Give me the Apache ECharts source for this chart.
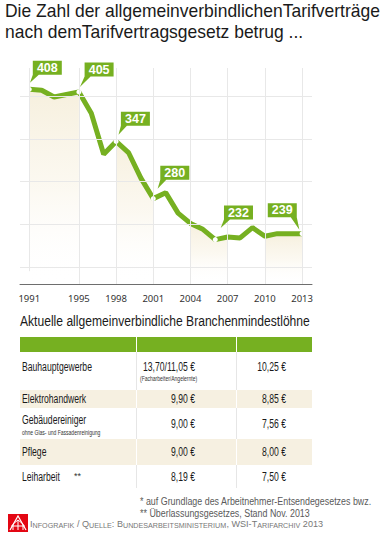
<!DOCTYPE html>
<html><head><meta charset="utf-8">
<script src="https://cdn.jsdelivr.net/npm/echarts@6/dist/echarts.min.js"></script>
<style>html,body{margin:0;padding:0;background:#fff}#c{width:384px;height:541px}</style>
</head><body><div id="c"></div>
<script>
// ---------- data ----------
const titleLines = ['Die Zahl der allgemeinverbindlichenTarifverträge', 'nach demTarifvertragsgesetz betrug ...'];
const years  = [1991,1992,1993,1994,1995,1996,1997,1998,1999,2000,2001,2002,2003,2004,2005,2006,2007,2008,2009,2010,2011,2012,2013];
const counts = [408, 407, 399, 402, 405, 380, 332, 347, 334, 304, 280, 287, 263, 251, 244, 232, 235, 234, 246, 236, 239, 239, 239];
const tickYears = [1991,1995,1998,2001,2004,2007,2010,2013];
const gridValues = [200,250,300,350,400];
const labeledYears = [1991,1995,1998,2001,2006,2013];
const bandStarts = [1991,1998,2004,2010];
const bandEnds   = [1995,2001,2007,2013];

const tableTitle = 'Aktuelle allgemeinverbindliche Branchenmindestlöhne';
const branches    = ['Bauhauptgewerbe','Elektrohandwerk','Gebäudereiniger','Pflege','Leiharbeit'];
const branchNotes = ['','','ohne Glas- und Fassadenreinigung','',''];
const branchMarks = ['','','','','**'];
const westWages   = ['13,70/11,05 €','9,90 €','9,00 €','9,00 €','8,19 €'];
const westNotes   = ['(Facharbeiter/Angelernte)','','','',''];
const eastWages   = ['10,25 €','8,85 €','7,56 €','8,00 €','7,50 €'];
const footnotes   = ['* auf Grundlage des Arbeitnehmer-Entsendegesetzes bwz.','** Überlassungsgesetzes, Stand Nov. 2013'];
const sourceText  = 'Infografik / Quelle: Bundesarbeitsministerium, WSI-Tarifarchiv 2013';

// ---------- styles ----------
const GREEN = '#76B021';
const BEIGE = '#F6F0E1';
const FAM = "'Liberation Sans',Arial,sans-serif";
const mctx = document.createElement('canvas').getContext('2d');
function tw(text, font) { mctx.font = font; return mctx.measureText(text).width; }

const calloutStyle = [
  {L:3.5,  B:-14.5, tx:0.7,  ty:-6.5, side:'left'},
  {L:5.7,  B:-15.3, tx:1.0,  ty:-5.0, side:'left'},
  {L:4.8,  B:-15.6, tx:2.4,  ty:-6.6, side:'left'},
  {L:7.0,  B:-18.9, tx:4.3,  ty:-9.9, side:'left'},
  {L:8.7,  B:-20.0, tx:5.4,  ty:-11.7,side:'left'},
  {L:-34.3,B:-16.3, tx:-2.7, ty:-4.0, side:'right'}
];
const CW = 29, CH = 14;

function buildCallout(s) {
  const L = s.L, B = s.B, T = B - CH, R = L + CW;
  let p;
  if (s.side === 'left') {
    p = `M${L},${T} L${R},${T} L${R},${B} L${L+6},${B} L${s.tx},${s.ty} L${L},${B} Z`;
  } else {
    p = `M${L},${T} L${R},${T} L${R},${B} L${s.tx},${s.ty} L${R-6},${B} L${L},${B} Z`;
  }
  const minX = Math.min(L, s.tx), maxX = Math.max(R, s.tx);
  const minY = T, maxY = Math.max(B, s.ty);
  const off = [(minX + maxX) / 2, (minY + maxY) / 2];
  return {
    path: 'path://' + p,
    size: [maxX - minX, maxY - minY],
    offset: off,
    labelOffset: [L + CW / 2 - off[0], T + CH / 2 - off[1]]
  };
}

const mainData = years.map((y, i) => [y, counts[i]]);

const fillSeries = bandStarts.map((s, i) => ({
  type: 'line', silent: true, z: 1, symbol: 'none',
  data: mainData.filter(p => p[0] >= s && p[0] <= bandEnds[i]),
  lineStyle: {width: 0, opacity: 0},
  areaStyle: {
    origin: 'start',
    color: new echarts.graphic.LinearGradient(0, 0, 0, 1, [
      {offset: 0, color: 'rgba(242,232,205,0.95)'},
      {offset: 0.5, color: 'rgba(248,242,226,0.7)'},
      {offset: 1, color: 'rgba(255,255,255,0)'}
    ])
  }
}));

const gridLineData = [
  ...tickYears.filter(y => y !== tickYears[0]).map(y => ({xAxis: y})),
  ...gridValues.map(v => ({yAxis: v})),
  [{coord: [tickYears[0], 433]}, {coord: [tickYears[0], 195]}]
];

const calloutData = labeledYears.map((y, i) => {
  const v = counts[years.indexOf(y)];
  const c = buildCallout(calloutStyle[i]);
  return {
    coord: [y, v], value: v,
    symbol: c.path, symbolSize: c.size, symbolOffset: c.offset, symbolKeepAspect: false,
    label: {offset: c.labelOffset}
  };
});

// ---------- text / table graphics ----------
const g = [];
function addText(text, x, y, size, width, opts) {
  const font = `${opts && opts.bold ? 'bold ' : ''}${size}px ${FAM}`;
  const sx = width ? width / tw(text, font) : (opts && opts.sx) || 1;
  g.push({type:'text', x: x, y: y, scaleX: sx, scaleY: 1,
    style: {text: text, font: font, fill: (opts && opts.fill) || '#1a1a1a',
            align: (opts && opts.align) || 'left', verticalAlign: 'middle'}});
  return sx;
}
// title
const titleFont = `18px ${FAM}`;
const titleSx = 375 / tw(titleLines[0], titleFont);
titleLines.forEach((t, i) => addText(t, 5, 11 + i * 21, 18, 0, {sx: titleSx, fill: '#1a1a1a'}));
// table title
addText(tableTitle, 20, 321.5, 14.5, 290);

const tX0 = 20, tX1 = 312, cX1 = 136, cX2 = 236;
const headTop = 337, headBottom = 352;
const rowEdges = [352, 390, 408, 439, 465, 488];
const nameY = [367, 398.5, 420, 452, 477];
const valY  = [367, 398.5, 424, 452, 477];
const bodySx = 70 / tw(branches[0], `12px ${FAM}`);
g.push({type:'rect', shape:{x:tX0, y:headTop, width:tX1-tX0, height:headBottom-headTop}, style:{fill:GREEN}});
[cX1, cX2].forEach(x => g.push({type:'line', shape:{x1:x+0.5, y1:headTop, x2:x+0.5, y2:headBottom}, style:{stroke:'#fff', lineWidth:1}}));
branches.forEach((b, i) => {
  const y0 = rowEdges[i], y1 = rowEdges[i+1];
  const beige = i % 2 === 1;
  if (beige) g.push({type:'rect', shape:{x:tX0, y:y0, width:tX1-tX0, height:y1-y0}, style:{fill:BEIGE}});
  [cX1, cX2].forEach(x => g.push({type:'line', shape:{x1:x+0.5, y1:y0, x2:x+0.5, y2:y1}, style:{stroke: beige ? '#fff' : '#E6E6E6', lineWidth:1}}));
  addText(b, 22, nameY[i], 12, 0, {sx: bodySx});
  if (branchNotes[i]) addText(branchNotes[i], 22, nameY[i] + 12, 7, 0, {sx: bodySx, fill: '#333'});
  if (branchMarks[i]) addText(branchMarks[i], 74, nameY[i] - 1, 9, 0, {sx: 1, fill: '#333'});
  addText(westWages[i], 195, valY[i], 12, 0, {sx: bodySx, align: 'right'});
  if (westNotes[i]) addText(westNotes[i], 140, valY[i] + 11, 7, 0, {sx: bodySx, fill: '#333'});
  addText(eastWages[i], 286, valY[i], 12, 0, {sx: bodySx, align: 'right'});
});
const footSx = 232 / tw(footnotes[0], `11.5px ${FAM}`);
footnotes.forEach((t, i) => addText(t, 140, 501 + i * 12, 11.5, 0, {sx: footSx, fill: '#5a5a5a'}));

// source line in small caps
(function () {
  const segs = []; let cur = null, buf = '';
  for (const ch of sourceText) {
    const st = ch !== ch.toUpperCase() ? 's' : 'b';
    if (st !== cur && buf) { segs.push([cur, buf]); buf = ''; }
    cur = st; buf += st === 's' ? ch.toUpperCase() : ch;
  }
  if (buf) segs.push([cur, buf]);
  const sizes = {b: 9.5, s: 7.5};
  const w = segs.reduce((a, s) => a + tw(s[1], `${sizes[s[0]]}px ${FAM}`), 0);
  const txt = segs.map(s => `{${s[0]}|${s[1]}}`).join('');
  g.push({type:'text', x:30, y:524, scaleX: 293 / w, scaleY: 1,
    style:{text: txt, fill:'#777', verticalAlign:'middle',
      rich:{ b:{fontSize:sizes.b, fontFamily:FAM, fill:'#777', verticalAlign:'bottom'},
             s:{fontSize:sizes.s, fontFamily:FAM, fill:'#777', verticalAlign:'bottom'} }}});
})();
// logo
g.push({type:'rect', shape:{x:8, y:514, width:20, height:18}, style:{fill:'#E30613'}});
g.push({type:'polyline', shape:{points:[[10,530],[18,516],[26,530]]}, style:{stroke:'#fff', lineWidth:1.2, fill:null}});
g.push({type:'polyline', shape:{points:[[13,530],[13,524],[18,520],[23,524],[23,530]]}, style:{stroke:'#fff', lineWidth:1, fill:null}});
g.push({type:'line', shape:{x1:11, y1:526, x2:25, y2:526}, style:{stroke:'#fff', lineWidth:1}});
g.push({type:'line', shape:{x1:18, y1:520, x2:18, y2:530}, style:{stroke:'#fff', lineWidth:1}});

// ---------- chart ----------
const chart = echarts.init(document.getElementById('c'), null, {renderer:'svg'});
chart.setOption({
  animation: false,
  backgroundColor: '#fff',
  grid: {left: 20, right: 72, top: 68, bottom: 257},
  xAxis: {
    type: 'value', min: 1990.25, max: 2013.8,
    axisLine: {show: true, lineStyle: {color: '#6e6e6e', width: 1}},
    axisTick: {show: false},
    splitLine: {show: false},
    axisLabel: {customValues: tickYears, formatter: v => String(v), color: '#333', fontSize: 9.5, fontFamily: "'Noto Sans',sans-serif", margin: 9}
  },
  yAxis: {type: 'value', min: 180, max: 433, show: false, splitLine: {show: false}},
  series: [
    ...fillSeries,
    {
      type: 'line', silent: true, z: 2, symbol: 'none', data: mainData,
      lineStyle: {width: 0, opacity: 0},
      markLine: {silent: true, symbol: ['none','none'], label: {show: false},
        lineStyle: {color: '#E8E8E8', width: 1, type: 'solid'}, data: gridLineData}
    },
    {
      type: 'line', silent: true, z: 3, data: mainData,
      lineStyle: {color: GREEN, width: 5},
      symbol: v => labeledYears.includes(v[0]) ? 'circle' : 'none',
      symbolSize: 5, showSymbol: true,
      itemStyle: {color: '#fff', borderWidth: 0}
    },
    {
      type: 'line', silent: true, z: 5, symbol: 'none', data: mainData,
      lineStyle: {width: 0, opacity: 0},
      markPoint: {
        silent: true,
        itemStyle: {color: GREEN},
        label: {show: true, position: 'inside', formatter: '{c}', color: '#fff', fontWeight: 'bold', fontSize: 12.5, fontFamily: FAM},
        data: calloutData
      }
    }
  ],
  graphic: g
});
</script>
</body></html>
